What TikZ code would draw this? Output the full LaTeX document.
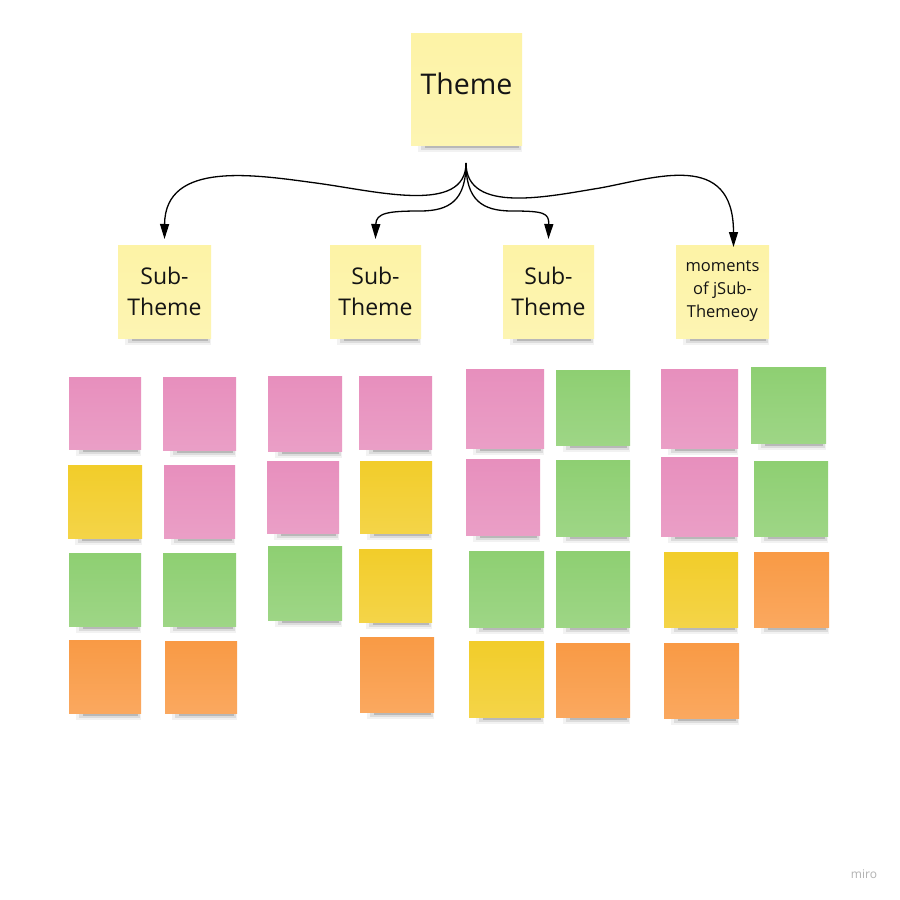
\documentclass[tikz,border=0pt]{standalone}
\usepackage{fontspec}
\setmainfont{Open Sans}
\usetikzlibrary{arrows.meta}
\definecolor{pale}{HTML}{FDF3A6}
\definecolor{pnk}{HTML}{E78FBD}
\definecolor{ylw}{HTML}{F2CD2A}
\definecolor{grn}{HTML}{8ECF72}
\definecolor{org}{HTML}{F99A45}
\tikzset{
  note/.style={rectangle, inner sep=0pt, outer sep=0pt, align=center, text=black!92},
  subfont/.style={font=\fontsize{23}{31}\selectfont},
  conn/.style={line width=1.3pt, -{Triangle[length=15pt,width=9pt]}},
}
% \sticky{name}{x1}{y1}{x2}{y2}{colour}{options}{text}
\newcommand\sticky[8]{%
  \fill[black,opacity=0.05] ({#2+7},{#5-2}) rectangle ({#4},{#5+7});
  \fill[black,opacity=0.09] ({#2+10},{#5-2}) rectangle ({#4-1},{#5+4.5});
  \fill[black,opacity=0.16] ({#2+14},{#5-2}) rectangle ({#4-3},{#5+2.5});
  \node[note, top color=#6, bottom color=#6!86!white,
        minimum width={(#4-#2)*1pt}, minimum height={(#5-#3)*1pt}, #7]
        (#1) at ({(#2+#4)/2},{(#3+#5)/2}) {#8};
}
\begin{document}
\begin{tikzpicture}[x=1pt,y=-1pt]
\useasboundingbox (0,0) rectangle (900,900);
\fill[white] (0,0) rectangle (900,900);

% theme and sub-themes
\sticky{theme}{411}{33}{522}{145}{pale}{font=\fontsize{28.5}{34}\selectfont, text depth=11pt}{Theme}
\sticky{s1}{118}{245}{211}{338}{pale}{subfont}{Sub-\\Theme}
\sticky{s2}{330}{245}{421}{338}{pale}{subfont}{Sub-\\Theme}
\sticky{s3}{503}{245}{594}{338}{pale}{subfont}{Sub-\\Theme}
\sticky{s4}{676}{245}{769}{338}{pale}{font=\fontsize{16.5}{23}\selectfont}{moments\\of jSub-\\Themeoy}

% group 1
\sticky{a1}{69}{377}{141}{449}{pnk}{}{}
\sticky{a2}{163}{377}{236}{450}{pnk}{}{}
\sticky{a3}{68}{465}{142}{538}{ylw}{}{}
\sticky{a4}{164}{465}{235}{538}{pnk}{}{}
\sticky{a5}{69}{553}{141}{626}{grn}{}{}
\sticky{a6}{163}{553}{236}{626}{grn}{}{}
\sticky{a7}{69}{640}{141}{713}{org}{}{}
\sticky{a8}{165}{641}{237}{713}{org}{}{}
% group 2
\sticky{b1}{268}{376}{342}{451}{pnk}{}{}
\sticky{b2}{359}{376}{432}{449}{pnk}{}{}
\sticky{b3}{267}{461}{339}{533}{pnk}{}{}
\sticky{b4}{360}{461}{432}{533}{ylw}{}{}
\sticky{b5}{268}{546}{342}{620}{grn}{}{}
\sticky{b6}{359}{549}{432}{622}{ylw}{}{}
\sticky{b7}{360}{637}{434}{712}{org}{}{}
% group 3
\sticky{c1}{466}{369}{544}{448}{pnk}{}{}
\sticky{c2}{556}{370}{630}{445}{grn}{}{}
\sticky{c3}{466}{459}{540}{535}{pnk}{}{}
\sticky{c4}{556}{460}{630}{536}{grn}{}{}
\sticky{c5}{469}{551}{544}{627}{grn}{}{}
\sticky{c6}{556}{551}{630}{627}{grn}{}{}
\sticky{c7}{469}{641}{544}{717}{ylw}{}{}
\sticky{c8}{556}{643}{630}{717}{org}{}{}
% group 4
\sticky{d1}{661}{369}{738}{448}{pnk}{}{}
\sticky{d2}{751}{367}{826}{443}{grn}{}{}
\sticky{d3}{661}{457}{738}{536}{pnk}{}{}
\sticky{d4}{754}{461}{828}{536}{grn}{}{}
\sticky{d5}{664}{552}{738}{627}{ylw}{}{}
\sticky{d6}{754}{552}{829}{627}{org}{}{}
\sticky{d7}{664}{643}{739}{718}{org}{}{}

% connectors
\coordinate (root) at (466,163);
\draw[conn] (root) .. controls (466,215) and (376,191) .. (316,183)
  .. controls (256,175) and (165,160) .. ([yshift=6pt]s1.north);
\draw[conn] (root) .. controls (466,200) and (450,211) .. (420,211)
  .. controls (388,211) and (376,213) .. ([yshift=6pt]s2.north);
\draw[conn] (root) .. controls (466,200) and (482,211) .. (512,211)
  .. controls (544,211) and (549,213) .. ([yshift=6pt]s3.north);
\draw[conn] (root) .. controls (466,215) and (550,196) .. (600,188)
  .. controls (655,178) and (733.5,150) .. ([xshift=11pt,yshift=-2pt]s4.north);

\node[text=black!30, font=\fontsize{12}{14}\selectfont] (miro) at (864,874) {miro};
\end{tikzpicture}
\end{document}
